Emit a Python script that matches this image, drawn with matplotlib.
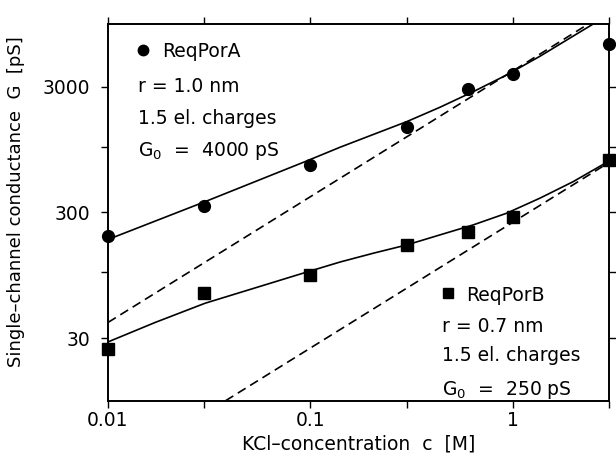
import numpy as np
import matplotlib
matplotlib.use("Agg")
import matplotlib.pyplot as plt
from matplotlib.ticker import FixedLocator, FixedFormatter, NullLocator

# measured points
conc = [0.01, 0.03, 0.1, 0.3, 0.6, 1.0, 3.0]
g_a = [195, 338, 717, 1430, 2868, 3796, 6577]
g_b = [24.5, 68.4, 95.6, 165.5, 211, 278, 785]

# fitted curves
fit_c_a = [0.01, 0.0302, 0.0941, 0.1402, 0.2041, 0.2996, 0.4377, 0.6393,
           0.935, 1.366, 1.995, 2.46, 2.6]
fit_g_a = [183, 366, 761, 991, 1250, 1584, 2063, 2745,
           3727, 5250, 7600, 9313, 9900]
fit_c_b = [0.01, 0.0171, 0.0302, 0.0533, 0.0941, 0.1402, 0.2041, 0.2996,
           0.4377, 0.6393, 0.935, 1.366, 1.995, 3.0]
fit_g_b = [28.0, 40.0, 56.9, 75.3, 99.7, 121, 142, 165.5,
           199, 239, 296, 390, 528, 770]

# limiting lines G = G0 * c
lim_c = [0.01, 3.0]
lim_g_a = [40, 12000]
lim_g_b = [2.5, 750]

xticks = [0.01, 0.03, 0.1, 0.3, 1, 3]
xlabels = ["0.01", "", "0.1", "", "1", ""]
yticks = [30, 100, 300, 1000, 3000]
ylabels = ["30", "", "300", "", "3000"]

plt.rcParams['font.family'] = ['DejaVu Sans']
fig = plt.figure(figsize=(6.16, 4.61), dpi=100)
ax = fig.add_axes([108 / 616, 1 - 401 / 461, (609 - 108) / 616, (401 - 24) / 461])

dash = (0, (5.5, 3.2))
ax.plot(fit_c_a, fit_g_a, color="black", lw=1.2)
ax.plot(fit_c_b, fit_g_b, color="black", lw=1.2)
ax.plot(lim_c, lim_g_a, color="black", lw=1.2, linestyle=dash)
ax.plot(lim_c, lim_g_b, color="black", lw=1.2, linestyle=dash)
ax.plot(conc, g_a, "o", color="black", markersize=8.5, clip_on=False, zorder=5)
ax.plot(conc, g_b, "s", color="black", markersize=8.5, clip_on=False, zorder=5)

ax.set_xscale("log")
ax.set_yscale("log")
ax.set_xlim(0.01, 3)
ax.set_ylim(30 / np.sqrt(10), 3000 * np.sqrt(10))

ax.xaxis.set_major_locator(FixedLocator(xticks))
ax.xaxis.set_major_formatter(FixedFormatter(xlabels))
ax.xaxis.set_minor_locator(NullLocator())
ax.yaxis.set_major_locator(FixedLocator(yticks))
ax.yaxis.set_major_formatter(FixedFormatter(ylabels))
ax.yaxis.set_minor_locator(NullLocator())
ax.tick_params(which="both", direction="out", length=5, width=1, labelsize=13.5,
               top=True, right=True)
ax.tick_params(axis="x", pad=2.5)
ax.tick_params(axis="y", pad=8)
for sp in ax.spines.values():
    sp.set_linewidth(1.4)

ax.set_xlabel("KCl–concentration  c  [M]", fontsize=13.5, labelpad=3)
ax.set_ylabel("Single–channel conductance  G  [pS]", fontsize=13)
ax.yaxis.set_label_coords(-0.165, 0.53)

# annotations
fs = 13.5
ax.plot([0.01489], [5893], "o", color="black", markersize=7.5)
ax.text(0.01849, 5154, "ReqPorA", fontsize=fs, va="baseline")
ax.text(0.01407, 2745, "r = 1.0 nm", fontsize=fs, va="baseline")
ax.text(0.01407, 1519, "1.5 el. charges", fontsize=fs, va="baseline")
ax.text(0.01407, 850, "G$_0$  =  4000 pS", fontsize=fs, va="baseline")

ax.plot([0.4807], [68.4], "s", color="black", markersize=7.5)
ax.text(0.588, 59.7, "ReqPorB", fontsize=fs, va="baseline")
ax.text(0.4477, 33.8, "r = 0.7 nm", fontsize=fs, va="baseline")
ax.text(0.4477, 19.9, "1.5 el. charges", fontsize=fs, va="baseline")
ax.text(0.4477, 10.6, "G$_0$  =  250 pS", fontsize=fs, va="baseline")

fig.savefig("out.png", dpi=100)
